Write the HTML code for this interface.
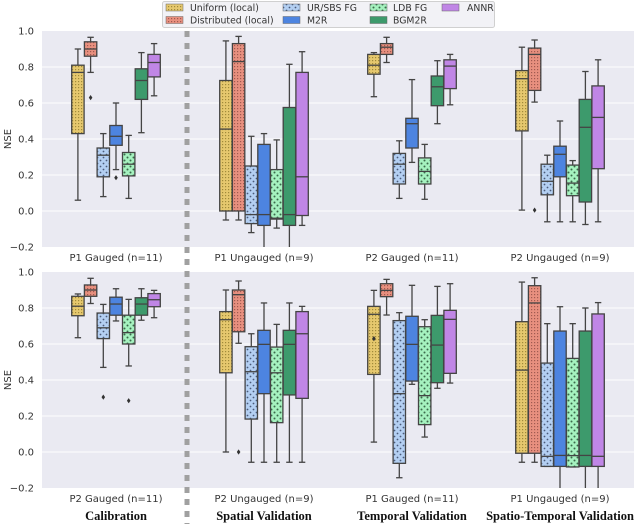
<!DOCTYPE html>
<html><head><meta charset="utf-8">
<style>
html,body{margin:0;padding:0;background:#fff;}
svg{display:block;font-family:"DejaVu Sans","Liberation Sans",sans-serif;}
</style></head>
<body>
<svg id="chart" width="640" height="524" viewBox="0 0 640 524" xmlns="http://www.w3.org/2000/svg">
<defs>
<pattern id="p0" width="3" height="3" patternUnits="userSpaceOnUse"><rect width="3" height="3" fill="#e6c86e"/><rect x="0" y="0" width="1.2" height="1.2" fill="#a08a3a"/></pattern>
<pattern id="p1" width="3" height="3" patternUnits="userSpaceOnUse"><rect width="3" height="3" fill="#e8907f"/><rect x="0" y="0" width="1.2" height="1.2" fill="#a05a50"/></pattern>
<pattern id="p2" width="6" height="6" patternUnits="userSpaceOnUse"><rect width="6" height="6" fill="#b3cff2"/><circle cx="1.5" cy="1.5" r="0.9" fill="#4a5a7a"/><circle cx="4.5" cy="4.5" r="0.9" fill="#4a5a7a"/></pattern>
<pattern id="p4" width="6" height="6" patternUnits="userSpaceOnUse"><rect width="6" height="6" fill="#a5f2bf"/><circle cx="1.5" cy="1.5" r="1" fill="#3a6a4a"/><circle cx="4.5" cy="4.5" r="1" fill="#3a6a4a"/></pattern>
<clipPath id="clipTop"><rect x="42" y="31" width="592" height="216"/></clipPath>
<clipPath id="clipBot"><rect x="42" y="272" width="592" height="216"/></clipPath>
</defs>
<g id="layer"></g>
</svg>
<script>
const hues = ["Uniform (local)","Distributed (local)","UR/SBS FG","M2R","LDB FG","BGM2R","ANNR"];
const fills = ["url(#p0)","url(#p1)","url(#p2)","#4d84e0","url(#p4)","#3d9a6c","#c086e6"];
const legendFills = ["url(#p0)","url(#p1)","url(#p2)","#4d84e0","url(#p4)","#3d9a6c","#c086e6"];
const topCats = ["P1 Gauged (n=11)","P1 Ungauged (n=9)","P2 Gauged (n=11)","P2 Ungauged (n=9)"];
const botCats = ["P2 Gauged (n=11)","P2 Ungauged (n=9)","P1 Gauged (n=11)","P1 Ungauged (n=9)"];
const sectionTitles = ["Calibration","Spatial Validation","Temporal Validation","Spatio-Temporal Validation"];
const yTicks = [1.0,0.8,0.6,0.4,0.2,0.0,-0.2];
const yTickLabels = ["1.0","0.8","0.6","0.4","0.2","0.0","\u22120.2"];
// each box: [whislo, q1, median, q3, whishi]
const topStats = [
 [[0.06,0.43,0.77,0.81,0.9],[0.77,0.86,0.9,0.94,0.965],[0.08,0.19,0.31,0.35,0.43],[0.23,0.365,0.415,0.475,0.6],[0.07,0.195,0.26,0.325,0.42],[0.435,0.62,0.725,0.79,0.88],[0.64,0.745,0.825,0.87,0.93]],
 [[-0.05,0.0,0.455,0.725,0.945],[-0.05,0.0,0.83,0.93,0.97],[-0.12,-0.07,-0.02,0.25,0.415],[-0.3,-0.08,-0.02,0.37,0.43],[-0.095,-0.045,-0.04,0.23,0.395],[-0.3,-0.08,-0.02,0.575,0.815],[-0.08,-0.025,0.19,0.77,0.885]],
 [[0.635,0.76,0.81,0.87,0.88],[0.825,0.87,0.91,0.93,0.965],[0.07,0.15,0.26,0.32,0.39],[0.27,0.35,0.485,0.515,0.73],[0.065,0.15,0.22,0.295,0.37],[0.485,0.585,0.69,0.75,0.835],[0.59,0.68,0.805,0.84,0.87]],
 [[0.005,0.445,0.735,0.78,0.91],[0.605,0.67,0.87,0.905,0.95],[-0.06,0.09,0.165,0.26,0.31],[-0.06,0.19,0.315,0.36,0.5],[-0.06,0.085,0.155,0.255,0.28],[-0.075,0.05,0.465,0.62,0.775],[-0.06,0.235,0.52,0.695,0.84]]
];
const topOutliers = [[[],[0.63],[],[0.185],[],[],[]],[[],[],[],[],[],[],[]],[[],[],[],[],[],[],[]],[[],[0.005],[],[],[],[],[]]];
const botStats = [
 [[0.635,0.757,0.81,0.865,0.878],[0.825,0.865,0.9,0.928,0.965],[0.47,0.63,0.69,0.772,0.82],[0.728,0.76,0.822,0.86,0.907],[0.478,0.6,0.663,0.76,0.848],[0.732,0.76,0.822,0.857,0.907],[0.746,0.807,0.846,0.88,0.898]],
 [[0.0,0.44,0.735,0.78,0.9],[0.604,0.668,0.874,0.9,0.95],[-0.057,0.183,0.446,0.585,0.657],[-0.057,0.324,0.598,0.676,0.828],[-0.057,0.163,0.44,0.583,0.709],[-0.057,0.317,0.598,0.676,0.828],[-0.057,0.298,0.657,0.78,0.809]],
 [[0.055,0.431,0.765,0.809,0.898],[0.761,0.863,0.898,0.935,0.959],[-0.143,-0.063,0.324,0.73,0.774],[0.376,0.394,0.598,0.754,0.926],[0.083,0.152,0.313,0.696,0.735],[0.354,0.385,0.594,0.759,0.92],[0.383,0.437,0.737,0.787,0.935]],
 [[-0.057,-0.007,0.455,0.724,0.944],[-0.057,-0.007,0.828,0.924,0.968],[-0.08,-0.08,-0.024,0.494,0.713],[-0.3,-0.08,-0.019,0.672,0.807],[-0.083,-0.083,-0.02,0.52,0.713],[-0.3,-0.08,-0.019,0.672,0.8],[-0.3,-0.08,-0.024,0.767,0.83]]
];
const botOutliers = [[[],[],[0.305],[],[0.285],[],[]],[[],[0.0],[],[],[],[],[]],[[0.63],[],[],[],[],[],[]],[[],[],[],[],[],[],[]]];

const NS="http://www.w3.org/2000/svg";
const layer=document.getElementById('layer');
function mk(tag,attrs,parent){const e=document.createElementNS(NS,tag);for(const k in attrs)e.setAttribute(k,attrs[k]);(parent||layer).appendChild(e);return e;}
const X0=42,X1=634,groupW=(X1-X0)/4,step=12.7,boxW=12.4;
function xGroup(g){return X0+groupW*(g+0.5);}
function xHue(g,h){return xGroup(g)+(h-3)*step;}

function panel(top,stats,outs,cats,clipId,name){
  const bottom=top+216;
  const y=v=>top+(1.0-v)*180;
  const bg=mk('rect',{x:X0,y:top,width:X1-X0,height:216,fill:'#eaeaf2'});
  
  
  yTicks.forEach((t,i)=>{
    if(i>0&&i<yTicks.length-1){const gl=mk('line',{x1:X0,x2:X1,y1:y(t),y2:y(t),stroke:'#fff','stroke-width':1});
      
      }
    const tl=mk('text',{x:34,y:y(t)+3.5,'text-anchor':'end','font-size':10,fill:'#333'});
    tl.textContent=yTickLabels[i];
    
    
  });
  const yl=mk('text',{x:0,y:0,'font-size':10,fill:'#333','text-anchor':'middle',transform:`translate(11,${top+108}) rotate(-90)`});
  yl.textContent='NSE';
  
  
  const g=mk('g',{'clip-path':`url(#${clipId})`});
  stats.forEach((grp,gi)=>{
    grp.forEach((s,hi)=>{
      const cx=xHue(gi,hi),x=cx-boxW/2;
      const w1=mk('line',{x1:cx,x2:cx,y1:y(s[0]),y2:y(s[1]),stroke:'#444','stroke-width':1.3},g);
      
      
      const w2=mk('line',{x1:cx,x2:cx,y1:y(s[3]),y2:y(s[4]),stroke:'#444','stroke-width':1.3},g);
      
      
      [s[0],s[4]].forEach(v=>{const c=mk('line',{x1:cx-3.2,x2:cx+3.2,y1:y(v),y2:y(v),stroke:'#444','stroke-width':1.3},g);
        
        });
      const b=mk('rect',{x:x,y:y(s[3]),width:boxW,height:Math.max(0.5,y(s[1])-y(s[3])),fill:fills[hi],stroke:'#444','stroke-width':1.3},g);
      
      
      const m=mk('line',{x1:x,x2:x+boxW,y1:y(s[2]),y2:y(s[2]),stroke:'#444','stroke-width':1.3},g);
      
      
      outs[gi][hi].forEach(v=>{const o=mk('path',{d:`M${cx} ${y(v)-2.6}L${cx+1.8} ${y(v)}L${cx} ${y(v)+2.6}L${cx-1.8} ${y(v)}Z`,fill:'#333'},g);
        
        });
    });
    const cl=mk('text',{x:xGroup(gi),y:bottom+14,'text-anchor':'middle','font-size':10,fill:'#333'});
    cl.textContent=cats[gi];
    
    
  });
}
panel(31,topStats,topOutliers,topCats,'clipTop','top-panel');
panel(272,botStats,botOutliers,botCats,'clipBot','bottom-panel');

sectionTitles.forEach((t,i)=>{
  const e=mk('text',{x:xGroup(i),y:520,'text-anchor':'middle','font-size':12.5,'font-weight':'bold','font-family':'"Liberation Serif",serif',fill:'#111'});
  e.textContent=t;
  
  
});
const sep=mk('line',{x1:187,x2:187,y1:31,y2:524,stroke:'#a0a0a0','stroke-width':5,'stroke-dasharray':'6 6'});



// legend
const lg=mk('g',{});


mk('rect',{x:162.5,y:1.5,width:332,height:26,rx:2,fill:'#f2f2f6',stroke:'#d0d0d0','stroke-width':1},lg);
const colPatch=[166,283,370,442],colText=[190,307,393,467];
hues.forEach((h,i)=>{
  const col=Math.floor(i/2),row=i%2;const yy=row?20:7.5;
  const p=mk('rect',{x:colPatch[col],y:yy-3.5,width:17,height:7,fill:legendFills[i],stroke:'#666','stroke-width':0.5},lg);
  
  
  const t=mk('text',{x:colText[col],y:yy+3.5,'font-size':9.3,fill:'#333'},lg);
  t.textContent=h;
  
  
});
</script>
</body></html>
